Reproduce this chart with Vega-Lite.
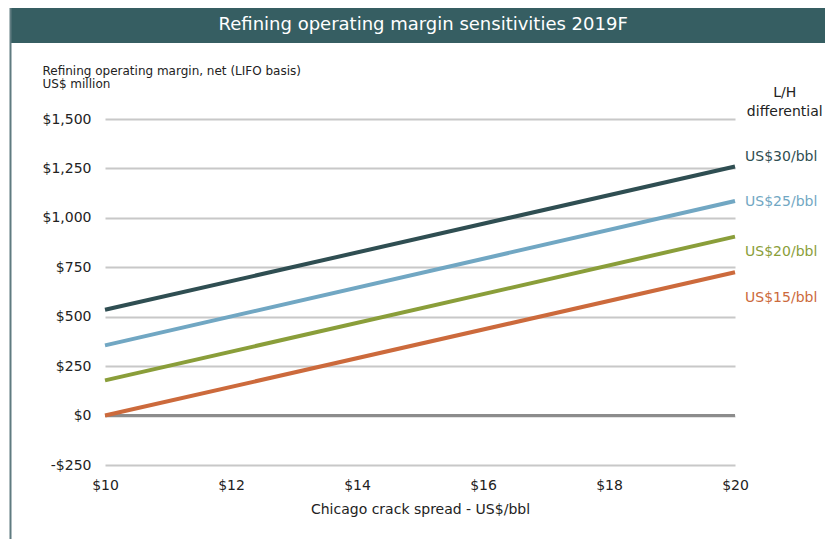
{
  "$schema": "https://vega.github.io/schema/vega-lite/v6.json",
  "width": 630,
  "height": 346,
  "autosize": {"type": "none"},
  "padding": {"left": 105, "top": 119, "right": 90, "bottom": 74},
  "background": "white",
  "config": {
    "font": "DejaVu Sans",
    "view": {"stroke": null}
  },
  "datasets": {
    "lines": [
      {"spread": 10, "margin": 535, "diff": "US$30/bbl"},
      {"spread": 20, "margin": 1260, "diff": "US$30/bbl"},
      {"spread": 10, "margin": 355, "diff": "US$25/bbl"},
      {"spread": 20, "margin": 1085, "diff": "US$25/bbl"},
      {"spread": 10, "margin": 178, "diff": "US$20/bbl"},
      {"spread": 20, "margin": 905, "diff": "US$20/bbl"},
      {"spread": 10, "margin": 0, "diff": "US$15/bbl"},
      {"spread": 20, "margin": 725, "diff": "US$15/bbl"}
    ],
    "labels": [
      {"diff": "US$30/bbl", "spread": 20.16, "margin": 1306},
      {"diff": "US$25/bbl", "spread": 20.16, "margin": 1079},
      {"diff": "US$20/bbl", "spread": 20.16, "margin": 826},
      {"diff": "US$15/bbl", "spread": 20.16, "margin": 597}
    ],
    "frame": [
      {"x1": 8.5, "x2": 22.5, "y1": 1885, "y2": 2062, "title": "Refining operating margin sensitivities 2019F", "tx": 15.05, "ty": 1976}
    ],
    "header": [
      {"text": "L/H\ndifferential", "spread": 20.79, "margin": 1630}
    ]
  },
  "layer": [
    {
      "data": {"name": "frame"},
      "mark": {"type": "rect", "color": "#365e62", "clip": false},
      "encoding": {
        "x": {"field": "x1", "type": "quantitative", "scale": {"domain": [10, 20], "nice": false}},
        "x2": {"field": "x2"},
        "y": {"field": "y1", "type": "quantitative", "scale": {"domain": [-250, 1500], "nice": false}},
        "y2": {"field": "y2"}
      }
    },
    {
      "data": {"name": "frame"},
      "mark": {"type": "rule", "color": "#5f7b80", "strokeWidth": 2, "clip": false},
      "encoding": {
        "x": {"field": "x1", "type": "quantitative"},
        "y": {"datum": 2062, "type": "quantitative"},
        "y2": {"datum": -700}
      }
    },
    {
      "data": {"name": "frame"},
      "mark": {"type": "text", "color": "white", "fontSize": 18, "baseline": "middle", "align": "center"},
      "encoding": {
        "x": {"field": "tx", "type": "quantitative"},
        "y": {"field": "ty", "type": "quantitative"},
        "text": {"field": "title"}
      }
    },
    {
      "data": {"name": "lines"},
      "mark": {"type": "rule", "color": "#8c8c8c", "strokeWidth": 2},
      "encoding": {"y": {"datum": 0, "type": "quantitative"}}
    },
    {
      "data": {"name": "lines"},
      "mark": {"type": "line", "strokeWidth": 4},
      "encoding": {
        "x": {
          "field": "spread", "type": "quantitative",
          "axis": {
            "values": [10, 12, 14, 16, 18, 20],
            "labelExpr": "'$' + datum.value",
            "labelFlush": false, "labelOverlap": false,
            "grid": false, "ticks": false, "domain": false,
            "labelFontSize": 14, "labelColor": "#222", "labelPadding": 13,
            "title": "Chicago crack spread - US$/bbl",
            "titleFontSize": 14, "titleFontWeight": "normal", "titleColor": "#222",
            "titlePadding": 10
          }
        },
        "y": {
          "field": "margin", "type": "quantitative",
          "axis": {
            "values": [-250, 0, 250, 500, 750, 1000, 1250, 1500],
            "labelExpr": "datum.value < 0 ? '-$' + format(-datum.value, ',') : '$' + format(datum.value, ',')",
            "grid": true, "gridColor": "#c8c8c8", "gridWidth": 2,
            "ticks": false, "domain": false,
            "labelFontSize": 14, "labelColor": "#222", "labelPadding": 14,
            "title": ["Refining operating margin, net (LIFO basis)", "US$ million"],
            "titleAngle": 0, "titleAlign": "left", "titleBaseline": "top",
            "titleX": -63, "titleY": -54, "titleFontSize": 12, "titleFontWeight": "normal",
            "titleColor": "#222", "titleLineHeight": 13
          }
        },
        "color": {
          "field": "diff", "type": "nominal",
          "scale": {
            "domain": ["US$30/bbl", "US$25/bbl", "US$20/bbl", "US$15/bbl"],
            "range": ["#2f4e52", "#71a7c3", "#8a9e3a", "#cc6a3c"]
          },
          "legend": null
        }
      }
    },
    {
      "data": {"name": "labels"},
      "mark": {"type": "text", "align": "left", "baseline": "middle", "fontSize": 14, "clip": false},
      "encoding": {
        "x": {"field": "spread", "type": "quantitative"},
        "y": {"field": "margin", "type": "quantitative"},
        "text": {"field": "diff"},
        "color": {
          "field": "diff", "type": "nominal",
          "scale": {
            "domain": ["US$30/bbl", "US$25/bbl", "US$20/bbl", "US$15/bbl"],
            "range": ["#4a6a6e", "#7aaec8", "#93a64a", "#d27a55"]
          },
          "legend": null
        }
      }
    },
    {
      "data": {"name": "header"},
      "mark": {"type": "text", "align": "center", "baseline": "middle", "fontSize": 14, "lineBreak": "\n", "lineHeight": 19, "color": "#222", "clip": false},
      "encoding": {
        "x": {"field": "spread", "type": "quantitative"},
        "y": {"field": "margin", "type": "quantitative"},
        "text": {"field": "text"}
      }
    }
  ]
}
